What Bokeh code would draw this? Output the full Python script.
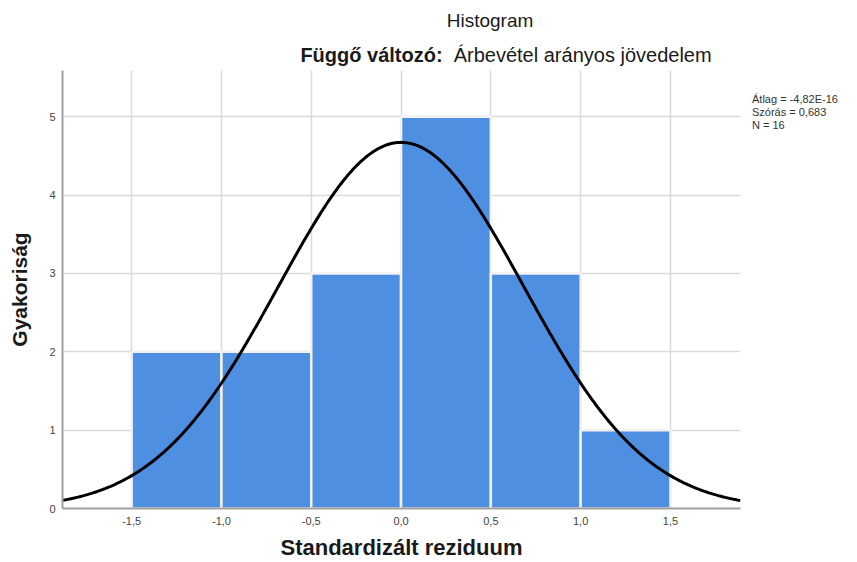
import numpy as np
from bokeh.plotting import figure
from bokeh.models import Range1d, FixedTicker, Div
from bokeh.layouts import column, row
from bokeh.embed import file_html
from bokeh.resources import INLINE

# ---- data ----
bin_left = [-1.5, -1.0, -0.5, 0.0, 0.5, 1.0]
bin_right = [-1.0, -0.5, 0.0, 0.5, 1.0, 1.5]
counts = [2, 2, 3, 5, 3, 1]
x_ticks = [-1.5, -1.0, -0.5, 0.0, 0.5, 1.0, 1.5]
x_tick_labels = ["-1,5", "-1,0", "-0,5", "0,0", "0,5", "1,0", "1,5"]
y_ticks = [0, 1, 2, 3, 4, 5]
stat_mean = -4.82e-16
stat_sd = 0.683
stat_n = 16
bin_width = 0.5
stats_text = ["Átlag = -4,82E-16", "Szórás = 0,683", "N = 16"]
title_text = "Histogram"
subtitle_bold = "Függő változó:"
subtitle_text = "Árbevétel arányos jövedelem"
x_label = "Standardizált reziduum"
y_label = "Gyakoriság"

X0, X1 = -1.885, 1.89
Y0, Y1 = 0.0, 5.59

FONT = "Liberation Sans"
CSSFONT = "'Liberation Sans', Arial, sans-serif"

p = figure(width=745, height=492, output_backend="svg", toolbar_location=None,
           title=None,
           x_range=Range1d(X0, X1), y_range=Range1d(Y0, Y1),
           min_border_left=62, min_border_right=5, min_border_top=0, min_border_bottom=54)
p.outline_line_color = None
p.background_fill_color = "white"
p.border_fill_color = "white"

# grid
p.xgrid.ticker = FixedTicker(ticks=x_ticks)
p.ygrid.ticker = FixedTicker(ticks=y_ticks)
for g in (p.xgrid, p.ygrid):
    g.grid_line_color = "#dadada"
    g.grid_line_width = 1.5

# bars
p.quad(left=bin_left, right=bin_right, top=counts, bottom=0,
       fill_color="#4f8fe1", line_color="#f2f2f2", line_width=2.5)

# normal curve from the reported statistics
xs = np.linspace(X0, X1, 400)
ys = stat_n * bin_width / (stat_sd * np.sqrt(2 * np.pi)) * np.exp(-(xs - stat_mean) ** 2 / (2 * stat_sd ** 2))
p.line(xs, ys, line_color="black", line_width=3)

# axes
p.xaxis.ticker = FixedTicker(ticks=x_ticks)
p.xaxis.major_label_overrides = {t: l for t, l in zip(x_ticks, x_tick_labels)}
p.yaxis.ticker = FixedTicker(ticks=y_ticks)
for ax in (p.xaxis, p.yaxis):
    ax.axis_line_color = "#a0a0a0"
    ax.axis_line_width = 2
    ax.major_tick_in = 0
    ax.major_tick_out = 0
    ax.minor_tick_in = 0
    ax.minor_tick_out = 0
    ax.major_label_text_font = FONT
    ax.major_label_text_font_size = "11px"
    ax.major_label_text_color = "#444444"
    ax.axis_label_text_font = FONT
    ax.axis_label_text_font_style = "bold"
    ax.axis_label_text_color = "#1a1a1a"
p.xaxis.axis_label_text_font_size = "22px"
p.yaxis.axis_label_text_font_size = "21px"
p.xaxis.axis_label = x_label
p.yaxis.axis_label = y_label
p.xaxis.major_label_standoff = 8
p.yaxis.major_label_standoff = 7
p.xaxis.axis_label_standoff = 7
p.yaxis.axis_label_standoff = 15

header_html = (
    f'<div style="position:relative;width:857px;height:70px;font-family:{CSSFONT};color:#1a1a1a;">'
    f'<div style="position:absolute;left:390px;width:200px;top:9px;line-height:24px;'
    f'text-align:center;font-size:19px;white-space:nowrap;">{title_text}</div>'
    f'<div style="position:absolute;left:206px;width:600px;top:42px;line-height:26px;'
    f'text-align:center;font-size:20px;white-space:nowrap;">'
    f'<b>{subtitle_bold}</b>&nbsp; {subtitle_text}</div>'
    f'</div>'
)
header = Div(text=header_html, width=857, height=70, margin=0)

stats_html = (
    f'<div style="padding-left:7px;padding-top:23px;font-family:{CSSFONT};font-size:11px;'
    f'line-height:13px;color:#333333;white-space:nowrap;">'
    + "<br>".join(stats_text) + '</div>'
)
stats = Div(text=stats_html, width=112, height=492, margin=0)

layout = column(header, row(p, stats, spacing=0, margin=0), spacing=0, margin=0)

open("out.html", "w").write(file_html(layout, INLINE))
